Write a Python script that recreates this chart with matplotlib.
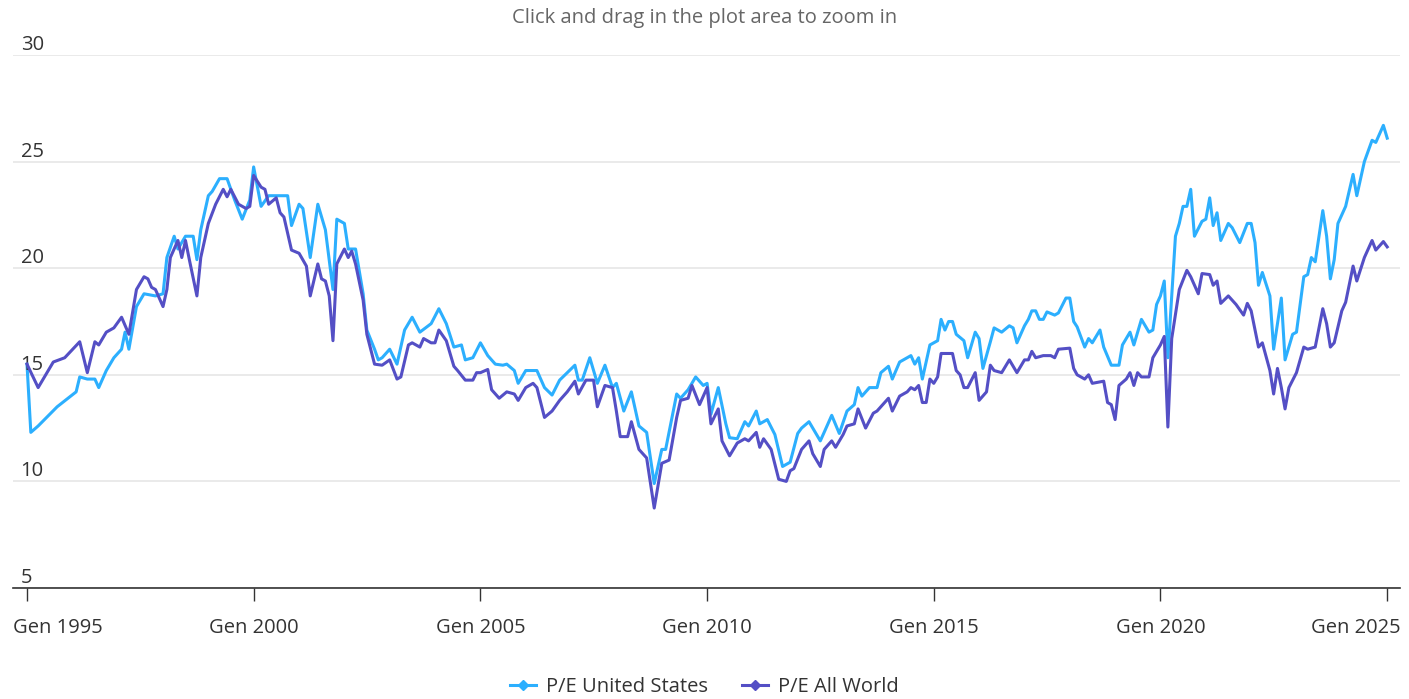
import matplotlib
matplotlib.use('Agg')
import matplotlib.pyplot as plt
import matplotlib.dates as mdates
from matplotlib.lines import Line2D
import pandas as pd

# ---- data (months counted from Jan 1995) ----
us_months = [0, 1, 3, 8, 13, 14, 16, 18, 19, 21, 23, 25, 26, 27, 29, 31, 34, 36, 37, 39,
             40, 42, 44, 45, 46, 48, 49, 51, 53, 55, 57, 59, 60, 62, 64, 69, 70, 72, 73, 75,
             77, 79, 81, 82, 84, 85, 87, 89, 90, 92, 93, 94, 96, 98, 100, 102, 104, 107, 109, 111,
             113, 115, 116, 118, 120, 122, 124, 126, 127, 129, 130, 132, 135, 137, 139, 141, 143, 145, 146, 147,
             149, 151, 153, 155, 156, 158, 160, 162, 164, 166, 168, 169, 172, 173, 175, 177, 179, 180, 181, 183,
             185, 186, 188, 190, 191, 193, 194, 196, 198, 200, 202, 204, 205, 207, 210, 211, 213, 215, 217, 219,
             220, 221, 223, 225, 226, 228, 229, 231, 232, 234, 235, 236, 237, 239, 241, 242, 243, 244, 245, 246,
             248, 249, 251, 252, 253, 255, 256, 258, 260, 261, 262, 264, 265, 266, 267, 268, 269, 270, 272, 273,
             275, 276, 277, 278, 280, 281, 282, 284, 285, 287, 289, 290, 292, 293, 295, 297, 298, 299, 300, 301,
             302, 304, 305, 306, 307, 308, 309, 311, 312, 313, 314, 315, 316, 318, 319, 321, 323, 324, 325, 326,
             327, 329, 330, 332, 333, 335, 336, 338, 339, 340, 341, 343, 344, 345, 346, 347, 349, 351, 352, 354,
             356, 357, 359, 360]
us_pe = [15.5, 12.3, 12.6, 13.5, 14.2, 14.9, 14.8, 14.8, 14.4, 15.2, 15.8, 16.2, 17.0, 16.2, 18.2, 18.8, 18.7, 18.8, 20.5, 21.5,
         20.9, 21.5, 21.5, 20.4, 21.8, 23.4, 23.6, 24.2, 24.2, 23.2, 22.3, 23.2, 24.75, 22.9, 23.4, 23.4, 22.0, 23.0, 22.8, 20.5,
         23.0, 21.8, 19.0, 22.3, 22.1, 20.9, 20.9, 18.8, 17.1, 16.2, 15.7, 15.8, 16.2, 15.5, 17.1, 17.7, 17.0, 17.4, 18.1, 17.4,
         16.3, 16.4, 15.7, 15.8, 16.5, 15.9, 15.5, 15.45, 15.5, 15.2, 14.6, 15.2, 15.2, 14.4, 14.05, 14.75, 15.1, 15.45, 14.75, 14.75,
         15.8, 14.6, 15.45, 14.4, 14.6, 13.3, 14.2, 12.6, 12.3, 9.9, 11.5, 11.5, 14.1, 13.9, 14.3, 14.9, 14.5, 14.6, 13.15, 14.4,
         12.7, 12.05, 12.0, 12.8, 12.6, 13.3, 12.7, 12.9, 12.2, 10.7, 10.9, 12.25, 12.5, 12.8, 11.9, 12.3, 13.1, 12.25, 13.3, 13.6,
         14.4, 14.0, 14.4, 14.4, 15.1, 15.4, 14.8, 15.6, 15.7, 15.9, 15.5, 15.8, 14.8, 16.4, 16.6, 17.6, 17.1, 17.5, 17.5, 16.9,
         16.6, 15.8, 17.0, 16.7, 15.3, 16.55, 17.2, 17.0, 17.3, 17.2, 16.5, 17.3, 17.6, 18.0, 18.0, 17.6, 17.6, 17.95, 17.8, 17.9,
         18.6, 18.6, 17.5, 17.25, 16.3, 16.7, 16.5, 17.1, 16.3, 15.45, 15.45, 16.4, 17.0, 16.4, 17.6, 17.0, 17.1, 18.3, 18.7, 19.4,
         15.8, 21.5, 22.1, 22.9, 22.9, 23.7, 21.5, 22.2, 22.3, 23.3, 22.0, 22.6, 21.3, 22.1, 21.9, 21.2, 22.1, 22.1, 21.2, 19.2,
         19.8, 18.7, 16.2, 18.6, 15.7, 16.9, 17.0, 19.6, 19.7, 20.5, 20.3, 22.7, 21.5, 19.5, 20.4, 22.1, 22.9, 24.4, 23.4, 25.0,
         26.0, 25.9, 26.7, 26.1]

world_months = [0, 3, 7, 10, 14, 16, 18, 19, 21, 23, 25, 27, 29, 31, 32, 33, 34, 36, 37, 38,
                40, 41, 42, 43, 45, 46, 48, 50, 52, 53, 54, 56, 58, 59, 60, 62, 63, 64, 66, 67,
                68, 70, 72, 74, 75, 77, 78, 79, 80, 81, 82, 84, 85, 86, 87, 89, 90, 92, 94, 96,
                98, 99, 101, 102, 104, 105, 107, 108, 109, 111, 113, 114, 116, 118, 119, 120, 122, 123, 125, 127,
                129, 130, 132, 134, 135, 137, 139, 141, 143, 145, 146, 148, 150, 151, 153, 155, 156, 157, 159, 160,
                162, 164, 166, 168, 170, 172, 173, 175, 176, 178, 180, 181, 183, 184, 186, 188, 190, 191, 193, 194,
                195, 197, 199, 201, 202, 203, 205, 207, 208, 210, 211, 213, 214, 216, 217, 219, 220, 222, 224, 225,
                227, 228, 229, 231, 233, 234, 235, 236, 237, 238, 239, 240, 241, 242, 245, 246, 247, 248, 249, 251,
                252, 254, 255, 256, 258, 260, 262, 264, 265, 266, 267, 269, 271, 272, 273, 276, 277, 278, 280, 281,
                282, 285, 286, 287, 288, 289, 291, 292, 293, 294, 295, 297, 298, 300, 301, 302, 303, 305, 307, 308,
                310, 311, 313, 314, 315, 316, 318, 320, 322, 323, 324, 326, 327, 329, 330, 331, 332, 333, 334, 336,
                338, 339, 341, 343, 344, 345, 346, 348, 349, 351, 352, 354, 356, 357, 359, 360]
world_pe = [15.5, 14.4, 15.6, 15.8, 16.55, 15.1, 16.55, 16.4, 17.0, 17.2, 17.7, 16.9, 19.0, 19.6, 19.5, 19.1, 19.0, 18.2, 19.0, 20.5,
            21.3, 20.5, 21.3, 20.4, 18.7, 20.5, 22.1, 23.0, 23.7, 23.35, 23.7, 23.0, 22.8, 22.9, 24.35, 23.8, 23.7, 23.0, 23.3, 22.6,
            22.4, 20.85, 20.7, 20.1, 18.7, 20.2, 19.5, 19.4, 18.7, 16.6, 20.2, 20.9, 20.5, 20.8, 20.2, 18.5, 16.9, 15.5, 15.45, 15.7,
            14.8, 14.9, 16.4, 16.5, 16.3, 16.7, 16.5, 16.5, 17.1, 16.6, 15.4, 15.2, 14.75, 14.75, 15.1, 15.1, 15.25, 14.3, 13.9, 14.2,
            14.1, 13.8, 14.4, 14.6, 14.4, 13.0, 13.3, 13.8, 14.2, 14.7, 14.1, 14.75, 14.75, 13.5, 14.5, 14.4, 13.3, 12.1, 12.1, 12.8,
            11.5, 11.1, 8.75, 10.85, 11.0, 13.0, 13.8, 13.9, 14.5, 13.6, 14.4, 12.7, 13.4, 11.9, 11.2, 11.8, 12.0, 11.9, 12.3, 11.6,
            12.0, 11.5, 10.1, 10.0, 10.5, 10.6, 11.5, 11.9, 11.3, 10.7, 11.5, 11.9, 11.6, 12.2, 12.6, 12.7, 13.4, 12.5, 13.2, 13.3,
            13.7, 13.9, 13.3, 14.0, 14.2, 14.4, 14.3, 14.5, 13.7, 13.7, 14.8, 14.6, 14.9, 16.0, 16.0, 15.2, 15.0, 14.4, 14.4, 15.1,
            13.8, 14.2, 15.45, 15.2, 15.1, 15.7, 15.1, 15.7, 15.7, 16.1, 15.8, 15.9, 15.9, 15.8, 16.2, 16.25, 15.3, 15.0, 14.8, 15.0,
            14.6, 14.7, 13.7, 13.6, 12.9, 14.5, 14.8, 15.1, 14.5, 15.1, 14.9, 14.9, 15.8, 16.4, 16.8, 12.55, 16.7, 19.0, 19.9, 19.6,
            18.8, 19.75, 19.7, 19.2, 19.4, 18.35, 18.7, 18.3, 17.8, 18.35, 18.0, 16.3, 16.5, 15.2, 14.1, 15.3, 14.4, 13.4, 14.4, 15.1,
            16.3, 16.2, 16.3, 18.1, 17.4, 16.3, 16.5, 18.0, 18.4, 20.1, 19.4, 20.5, 21.3, 20.85, 21.25, 21.0]

series_names = ['P/E United States', 'P/E All World']
series_colors = ['#2caffe', '#544fc5']
y_ticks = [5, 10, 15, 20, 25, 30]
x_tick_years = [1995, 2000, 2005, 2010, 2015, 2020, 2025]
x_tick_labels = ['Gen 1995', 'Gen 2000', 'Gen 2005', 'Gen 2010', 'Gen 2015', 'Gen 2020', 'Gen 2025']
title_text = 'Click and drag in the plot area to zoom in'


def to_dates(months):
    return [pd.Timestamp(1995 + m // 12, m % 12 + 1, 1) for m in months]


plt.rcParams['font.family'] = ['Open Sans', 'DejaVu Sans']
FS = 14.5

W, H = 1409, 699
fig = plt.figure(figsize=(W / 100, H / 100), dpi=100)
ax = fig.add_axes([13 / W, (H - 588) / H, 1387 / W, 533 / H])

ax.plot(to_dates(us_months), us_pe, color=series_colors[0], lw=2.2, solid_joinstyle='round', zorder=3)
ax.plot(to_dates(world_months), world_pe, color=series_colors[1], lw=2.2, solid_joinstyle='round', zorder=4)

start = mdates.date2num(pd.Timestamp(1995, 1, 1))
day_per_month = 365.25 / 12
ax.set_xlim(start - 3.7 * day_per_month, start + 363.4 * day_per_month)
ax.set_ylim(5, 30)

ax.set_yticks(y_ticks)
ax.yaxis.grid(True, color='#e6e6e6', lw=1.2)
ax.set_axisbelow(True)
ax.tick_params(axis='y', length=0, labelleft=False)
for v in y_ticks:
    ax.annotate(str(v), xy=(0, v), xycoords=('axes fraction', 'data'), xytext=(5.5, 3.6),
                textcoords='offset points', ha='left', va='baseline', fontsize=FS, color='#333333')

tick_pos = [mdates.date2num(pd.Timestamp(y, 1, 1)) for y in x_tick_years]
ax.set_xticks(tick_pos)
ax.tick_params(axis='x', length=9, width=1, color='#333333', labelbottom=False)
for i, (p, lab) in enumerate(zip(tick_pos, x_tick_labels)):
    if i == 0:
        ha, dx = 'left', -10
    elif i == len(tick_pos) - 1:
        ha, dx = 'right', 9.5
    else:
        ha, dx = 'center', 0
    ax.annotate(lab, xy=(p, 0), xycoords=('data', 'axes fraction'), xytext=(dx, -28.5),
                textcoords='offset points', ha=ha, va='center', fontsize=FS, color='#333333')

for s in ['top', 'right', 'left']:
    ax.spines[s].set_visible(False)
ax.spines['bottom'].set_color('#333333')
ax.spines['bottom'].set_linewidth(1.2)

fig.text(0.5, 1 - 18.5 / H, title_text, ha='center', va='center', fontsize=FS, color='#666666')

handles = [Line2D([0], [0], color=c, lw=2.2, marker='D', markersize=5.5) for c in series_colors]
fig.legend(handles, series_names, loc='center', bbox_to_anchor=(0.5, 11.5 / H), ncol=2, frameon=False,
           fontsize=FS, labelcolor='#333333', handlelength=1.3, handletextpad=0.5, columnspacing=1.7)

fig.savefig('out.png', dpi=100)
